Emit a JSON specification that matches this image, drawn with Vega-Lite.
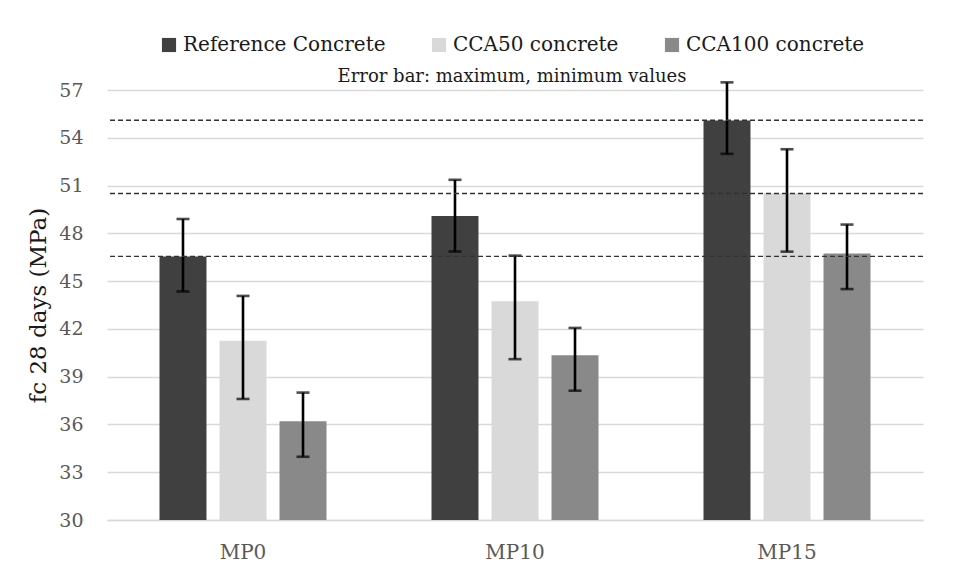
{
  "$schema": "https://vega.github.io/schema/vega-lite/v6.json",
  "autosize": {"type": "none"},
  "width": 816,
  "height": 430,
  "padding": {"left": 107, "top": 90, "right": 43, "bottom": 61},
  "background": "white",
  "config": {
    "view": {"stroke": null},
    "font": "DejaVu Serif"
  },
  "datasets": {
    "bars": [
      {"mix": "MP0", "series": "Reference Concrete", "value": 46.55, "min": 44.35, "max": 48.9},
      {"mix": "MP0", "series": "CCA50 concrete", "value": 41.26, "min": 37.6, "max": 44.07},
      {"mix": "MP0", "series": "CCA100 concrete", "value": 36.2, "min": 33.97, "max": 38.0},
      {"mix": "MP10", "series": "Reference Concrete", "value": 49.09, "min": 46.86, "max": 51.36},
      {"mix": "MP10", "series": "CCA50 concrete", "value": 43.74, "min": 40.1, "max": 46.6},
      {"mix": "MP10", "series": "CCA100 concrete", "value": 40.34, "min": 38.12, "max": 42.06},
      {"mix": "MP15", "series": "Reference Concrete", "value": 55.09, "min": 52.99, "max": 57.48},
      {"mix": "MP15", "series": "CCA50 concrete", "value": 50.51, "min": 46.85, "max": 53.28},
      {"mix": "MP15", "series": "CCA100 concrete", "value": 46.74, "min": 44.5, "max": 48.55}
    ],
    "refs": [
      {"level": 55.1},
      {"level": 50.5},
      {"level": 46.55}
    ]
  },
  "layer": [
    {
      "data": {"name": "bars"},
      "mark": {"type": "bar", "clip": true},
      "encoding": {
        "x": {
          "field": "mix", "type": "nominal", "sort": ["MP0", "MP10", "MP15"],
          "scale": {"paddingInner": 0.386, "paddingOuter": 0.193},
          "axis": {
            "title": null, "labelAngle": 0, "labelFontSize": 20, "labelColor": "#595959",
            "labelPadding": 22, "ticks": false, "domainColor": "#d9d9d9", "domainWidth": 1.5,
            "labelFont": "DejaVu Serif"
          }
        },
        "xOffset": {
          "field": "series", "type": "nominal",
          "sort": ["Reference Concrete", "CCA50 concrete", "CCA100 concrete"],
          "scale": {"paddingInner": 0.217, "paddingOuter": 0}
        },
        "y": {
          "field": "value", "type": "quantitative",
          "scale": {"domain": [30, 57], "nice": false, "zero": false},
          "axis": {
            "values": [30, 33, 36, 39, 42, 45, 48, 51, 54, 57],
            "title": "fc 28 days (MPa)", "titleFontSize": 23, "titleFontWeight": "normal",
            "titleColor": "#1a1a1a", "titlePadding": 8,
            "labelFontSize": 19, "labelColor": "#595959", "labelPadding": 24,
            "ticks": false, "domain": false,
            "gridColor": "#d9d9d9", "gridWidth": 1.5
          }
        },
        "y2": {"datum": 30},
        "color": {
          "field": "series", "type": "nominal",
          "scale": {
            "domain": ["Reference Concrete", "CCA50 concrete", "CCA100 concrete"],
            "range": ["#404040", "#d9d9d9", "#898989"]
          },
          "legend": {
            "title": "Error bar: maximum, minimum values",
            "titleOrient": "bottom", "titleAnchor": "middle",
            "titleFontSize": 18, "titleFontWeight": "normal", "titleColor": "#1a1a1a",
            "titlePadding": 13, "titleLimit": 0,
            "orient": "none", "legendX": 52, "legendY": -55,
            "direction": "horizontal",
            "symbolType": "square", "symbolSize": 200, "symbolStrokeWidth": 0,
            "labelFontSize": 20, "labelColor": "#1a1a1a", "labelOffset": 4, "labelLimit": 0,
            "columnPadding": 43
          }
        }
      }
    },
    {
      "data": {"name": "bars"},
      "mark": {"type": "rule", "color": "black", "strokeWidth": 2.6, "clip": false},
      "encoding": {
        "x": {"field": "mix", "type": "nominal", "sort": ["MP0", "MP10", "MP15"]},
        "xOffset": {"field": "series", "type": "nominal", "sort": ["Reference Concrete", "CCA50 concrete", "CCA100 concrete"]},
        "y": {"field": "min", "type": "quantitative"},
        "y2": {"field": "max"}
      }
    },
    {
      "data": {"name": "bars"},
      "mark": {"type": "tick", "color": "black", "thickness": 2.6, "size": 13, "clip": false},
      "encoding": {
        "x": {"field": "mix", "type": "nominal", "sort": ["MP0", "MP10", "MP15"]},
        "xOffset": {"field": "series", "type": "nominal", "sort": ["Reference Concrete", "CCA50 concrete", "CCA100 concrete"]},
        "y": {"field": "min", "type": "quantitative"}
      }
    },
    {
      "data": {"name": "bars"},
      "mark": {"type": "tick", "color": "black", "thickness": 2.6, "size": 13, "clip": false},
      "encoding": {
        "x": {"field": "mix", "type": "nominal", "sort": ["MP0", "MP10", "MP15"]},
        "xOffset": {"field": "series", "type": "nominal", "sort": ["Reference Concrete", "CCA50 concrete", "CCA100 concrete"]},
        "y": {"field": "max", "type": "quantitative"}
      }
    },
    {
      "data": {"name": "refs"},
      "mark": {"type": "rule", "color": "#333333", "strokeWidth": 1.3, "strokeDash": [5, 3]},
      "encoding": {
        "y": {"field": "level", "type": "quantitative"}
      }
    }
  ]
}
